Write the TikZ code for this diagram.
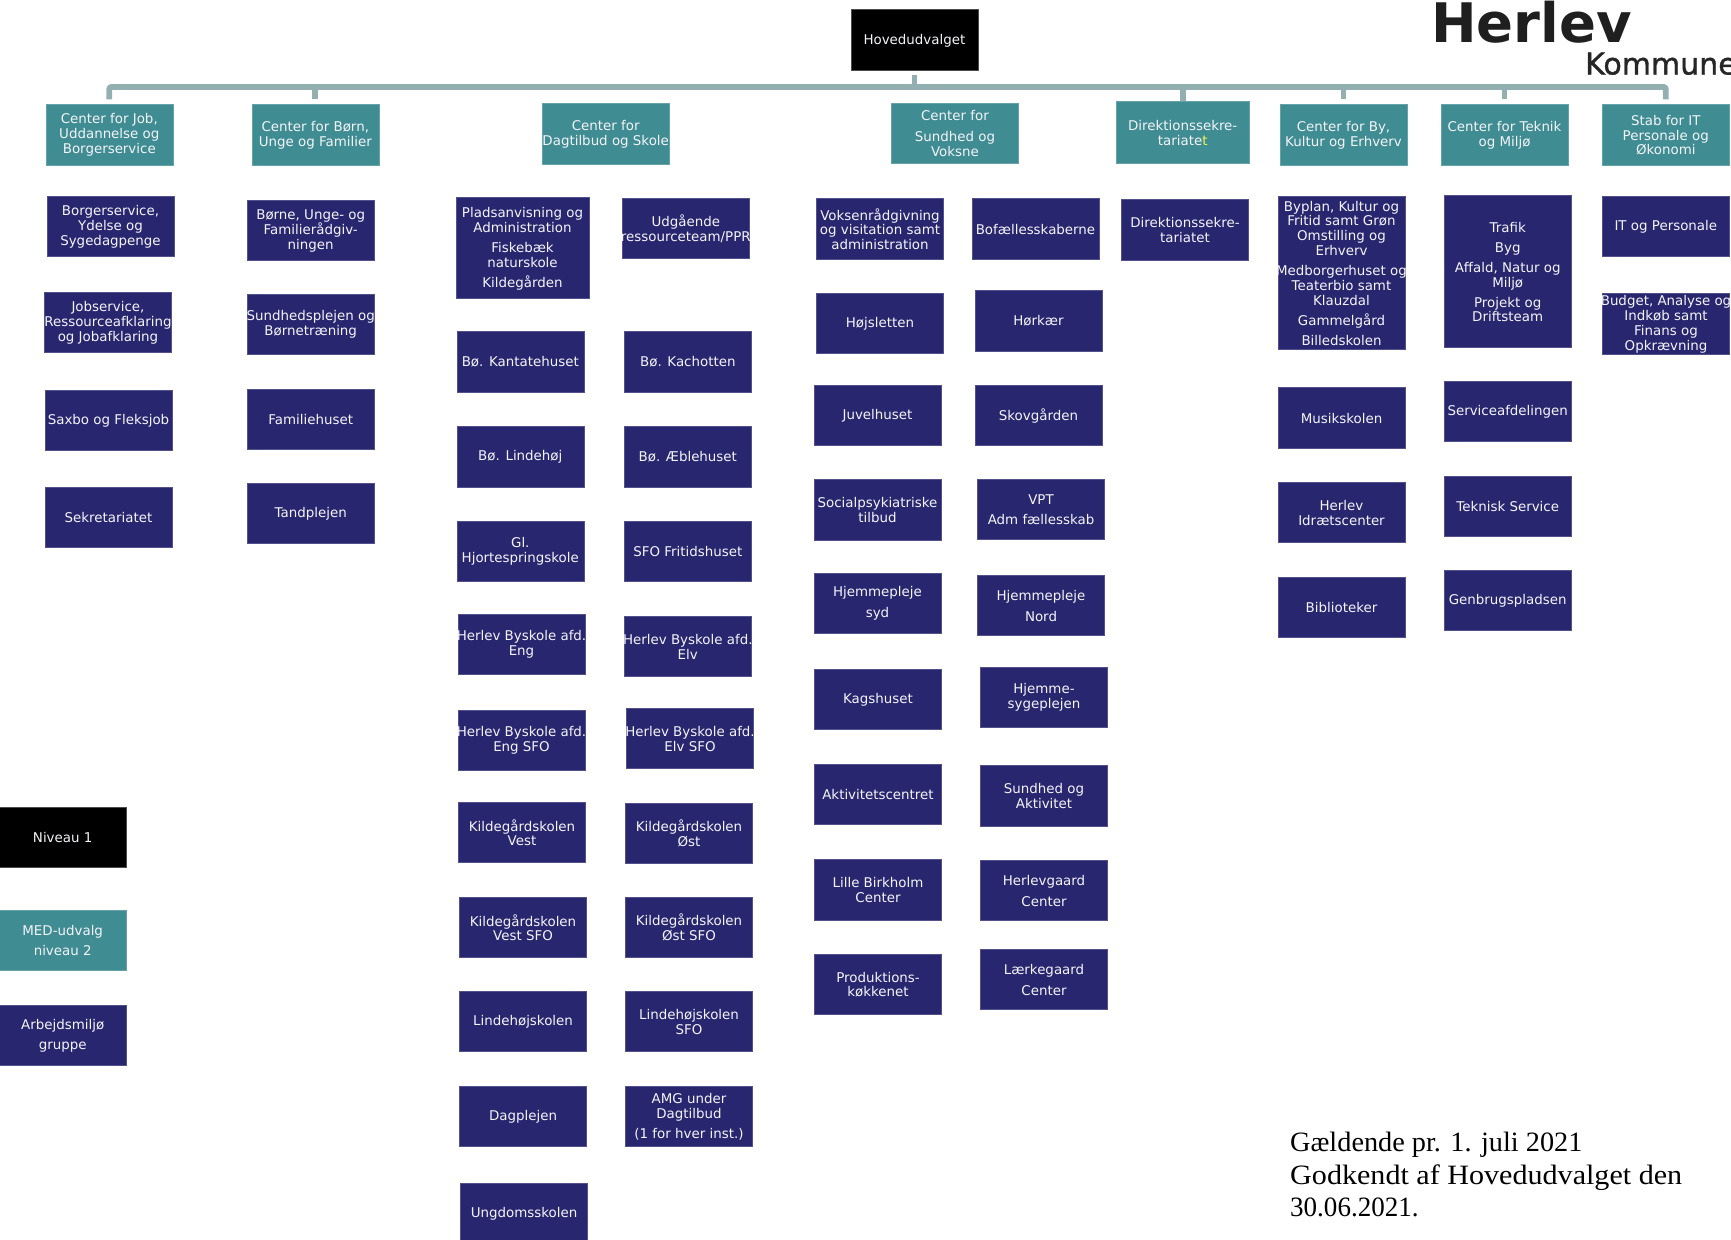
\documentclass[tikz,border=0pt]{standalone}
\usepackage{graphicx}
\usepackage{fontspec}
\setmainfont{DejaVu Sans}
\newfontfamily\noteserif{Liberation Serif}
\newfontfamily\logofont[FakeBold=1.2]{DejaVu Sans}
\definecolor{navyfill}{HTML}{28266F}
\definecolor{tealfill}{HTML}{3F8C93}
\definecolor{busline}{HTML}{94AFB2}
\definecolor{txt}{HTML}{F4F4F8}
\definecolor{yellowt}{HTML}{F4F640}
\tikzset{
  basebox/.style={rectangle,inner sep=0pt,outer sep=0pt,minimum width=127pt,minimum height=60.5pt,line width=0.5pt},
  navybox/.style={basebox,fill=navyfill,draw=navyfill!80!white},
  tealbox/.style={basebox,fill=tealfill,draw=tealfill!80!white},
  blackbox/.style={basebox,fill=black,draw=black!70!white},
  lbl/.style={text=txt,align=center,inner sep=0pt,yshift=-0.7pt,font=\fontsize{13.4}{14.9}\selectfont},
  busstyle/.style={draw=busline,line width=5.8pt,line join=round},
  note/.style={anchor=base west,inner sep=0pt,text=black,font=\noteserif\fontsize{28}{32}\selectfont}
}
\newcommand\bx[5][navybox]{\node[#1] (#2) at (#3,#4) {};\node[lbl] (#2t) at (#2) {#5};}
\begin{document}
\begin{tikzpicture}[x=1pt,y=-1pt]
\useasboundingbox (0,0) rectangle (1731,1239);
\begin{scope}
\clip (0,0) rectangle (1731,1239);
% logo
\node[anchor=base west,inner sep=0pt,text=black!88,font=\bfseries\fontsize{54.5}{60}\selectfont] (logoa) at (1431,43) {Herlev};
\begin{scope}
\clip (1500,50) rectangle (1731,74.7);
\node[anchor=base west,inner sep=0pt,text=black!85,font=\logofont\fontsize{30}{32}\selectfont] (logob) at (1585,74.5) {Kommune};
\end{scope}
% top
\bx[blackbox]{hoved}{914.4}{39.8}{Hovedudvalget}
% centres
\bx[tealbox]{cjob}{109.3}{134.5}{Center for Job,\\Uddannelse og\\Borgerservice}
\bx[tealbox]{cborn}{315.3}{134.5}{Center for Børn,\\Unge og Familier}
\bx[tealbox]{cdag}{605.7}{133.5}{Center for\\Dagtilbud og Skole}
\bx[tealbox]{csun}{955}{133}{Center for\\[6pt]Sundhed og\\Voksne}
\bx[tealbox,minimum width=133pt,minimum height=62pt]{cdir}{1182.7}{132}{Direktionssekre-\\tariate\textcolor{yellowt}{t}}
\bx[tealbox]{cby}{1343.5}{134.5}{Center for By,\\Kultur og Erhverv}
\bx[tealbox]{ctek}{1504.5}{134.5}{Center for Teknik\\og Miljø}
\bx[tealbox]{cstab}{1665.8}{134.5}{Stab for IT\\Personale og\\Økonomi}
% bus
\coordinate (busy) at (0,87);
\draw[busstyle,shorten <=5pt,shorten >=5pt,rounded corners=2pt] (cjob.north) -- (cjob.north |- busy) -- (cstab.north |- busy) -- (cstab.north);
\draw[busstyle,shorten <=5pt] (hoved.south) -- (hoved.south |- busy);
\draw[busstyle,shorten >=5pt] (cborn.north |- busy) -- (cborn.north);
\draw[busstyle] (cdir.north |- busy) -- (cdir.north);
\draw[busstyle,shorten >=5pt] (cby.north |- busy) -- (cby.north);
\draw[busstyle,shorten >=5pt] (ctek.north |- busy) -- (ctek.north);
% col job
\bx{bs}{110.5}{226}{Borgerservice,\\Ydelse og\\Sygedagpenge}
\bx{js}{108}{322}{Jobservice,\\Ressourceafklaring\\og Jobafklaring}
\bx{sax}{108.5}{420}{Saxbo og Fleksjob}
\bx{sek}{108.5}{517}{Sekretariatet}
% col born
\bx{bu}{310.7}{230}{Børne, Unge- og\\Familierådgiv-\\ningen}
\bx{sp}{310.7}{324}{Sundhedsplejen og\\Børnetræning}
\bx{fam}{310.7}{419}{Familiehuset}
\bx{tan}{310.7}{513}{Tandplejen}
% col dag
\bx[navybox,minimum width=133pt,minimum height=101pt]{pl}{522.5}{248}{Pladsanvisning og\\Administration\\[5pt]Fiskebæk\\naturskole\\[5pt]Kildegården}
\bx{ud}{685.8}{228}{Udgående\\ressourceteam/PPR}
\bx{kan}{520.3}{361.5}{Bø. Kantatehuset}
\bx{kac}{687.8}{361.5}{Bø. Kachotten}
\bx{lin}{520.3}{456.5}{Bø. Lindehøj}
\bx{aeb}{687.8}{456.5}{Bø. Æblehuset}
\bx{hjo}{520.3}{551}{Gl.\\Hjortespringskole}
\bx{sfo}{687.8}{551}{SFO Fritidshuset}
\bx{eng}{521.5}{644}{Herlev Byskole afd.\\Eng}
\bx{elv}{687.8}{646}{Herlev Byskole afd.\\Elv}
\bx{engs}{521.5}{740}{Herlev Byskole afd.\\Eng SFO}
\bx{elvs}{690}{738}{Herlev Byskole afd.\\Elv SFO}
\bx{kv}{522}{832}{Kildegårdskolen\\Vest}
\bx{ko}{689}{833}{Kildegårdskolen\\Øst}
\bx{kvs}{523}{927}{Kildegårdskolen\\Vest SFO}
\bx{kos}{689}{927}{Kildegårdskolen\\Øst SFO}
\bx{lh}{523}{1021}{Lindehøjskolen}
\bx{lhs}{689}{1021}{Lindehøjskolen\\SFO}
\bx{dagp}{523}{1116}{Dagplejen}
\bx{amg}{689}{1116}{AMG under\\Dagtilbud\\[5pt](1 for hver inst.)}
\bx{ung}{524}{1213}{Ungdomsskolen}
% col sundhed
\bx{vok}{880}{228.5}{Voksenrådgivning\\og visitation samt\\administration}
\bx{bof}{1035.5}{228.5}{Bofællesskaberne}
\bx{hoj}{880}{323}{Højsletten}
\bx{hor}{1038.5}{320.5}{Hørkær}
\bx{juv}{877.5}{415}{Juvelhuset}
\bx{sko}{1038.5}{415}{Skovgården}
\bx{soc}{877.5}{509.5}{Socialpsykiatriske\\tilbud}
\bx{vpt}{1041}{509}{VPT\\[6pt]Adm fællesskab}
\bx{hsy}{877.5}{603}{Hjemmepleje\\[6pt]syd}
\bx{hno}{1041}{605}{Hjemmepleje\\[6pt]Nord}
\bx{kag}{878}{699}{Kagshuset}
\bx{hsg}{1044}{697}{Hjemme-\\sygeplejen}
\bx{akt}{878}{794}{Aktivitetscentret}
\bx{sua}{1044}{795.5}{Sundhed og\\Aktivitet}
\bx{lil}{878}{889.5}{Lille Birkholm\\Center}
\bx{hgc}{1044}{890}{Herlevgaard\\[6pt]Center}
\bx{pro}{878}{984}{Produktions-\\køkkenet}
\bx{lae}{1044}{979}{Lærkegaard\\[6pt]Center}
% direktion
\bx{dir}{1185}{229.5}{Direktionssekre-\\tariatet}
% col by
\bx[navybox,minimum height=153pt]{byp}{1341.5}{272.5}{Byplan, Kultur og\\Fritid samt Grøn\\Omstilling og\\Erhverv\\[5pt]Medborgerhuset og\\Teaterbio samt\\Klauzdal\\[5pt]Gammelgård\\[5pt]Billedskolen}
\bx{mus}{1341.5}{417.5}{Musikskolen}
\bx{idr}{1341.5}{512}{Herlev\\Idrætscenter}
\bx{bib}{1341.5}{607}{Biblioteker}
% col teknik
\bx[navybox,minimum height=152pt]{tra}{1507.7}{271.5}{Trafik\\[5pt]Byg\\[5pt]Affald, Natur og\\Miljø\\[5pt]Projekt og\\Driftsteam}
\bx{ser}{1507.7}{411}{Serviceafdelingen}
\bx{tek}{1507.7}{506}{Teknisk Service}
\bx{gen}{1507.7}{600}{Genbrugspladsen}
% col stab
\bx{itp}{1665.8}{226}{IT og Personale}
\bx{bud}{1666}{323.5}{Budget, Analyse og\\Indkøb samt\\Finans og\\Opkrævning}
% legend
\bx[blackbox]{niv}{62.7}{837}{Niveau 1}
\bx[tealbox]{med}{62.7}{940}{MED-udvalg\\[5pt]niveau 2}
\bx{arb}{62.7}{1035}{Arbejdsmiljø\\[5pt]gruppe}
% note
\node[note] (n1) at (1290,1151.7) {\scalebox{1.01}[1]{Gældende pr. 1. juli 2021}};
\node[note] (n2) at (1290,1184) {\scalebox{1.075}[1]{Godkendt af Hovedudvalget den}};
\node[note] (n3) at (1290,1216) {\scalebox{0.965}[1]{30.06.2021.}};
\end{scope}
\end{tikzpicture}
\end{document}
